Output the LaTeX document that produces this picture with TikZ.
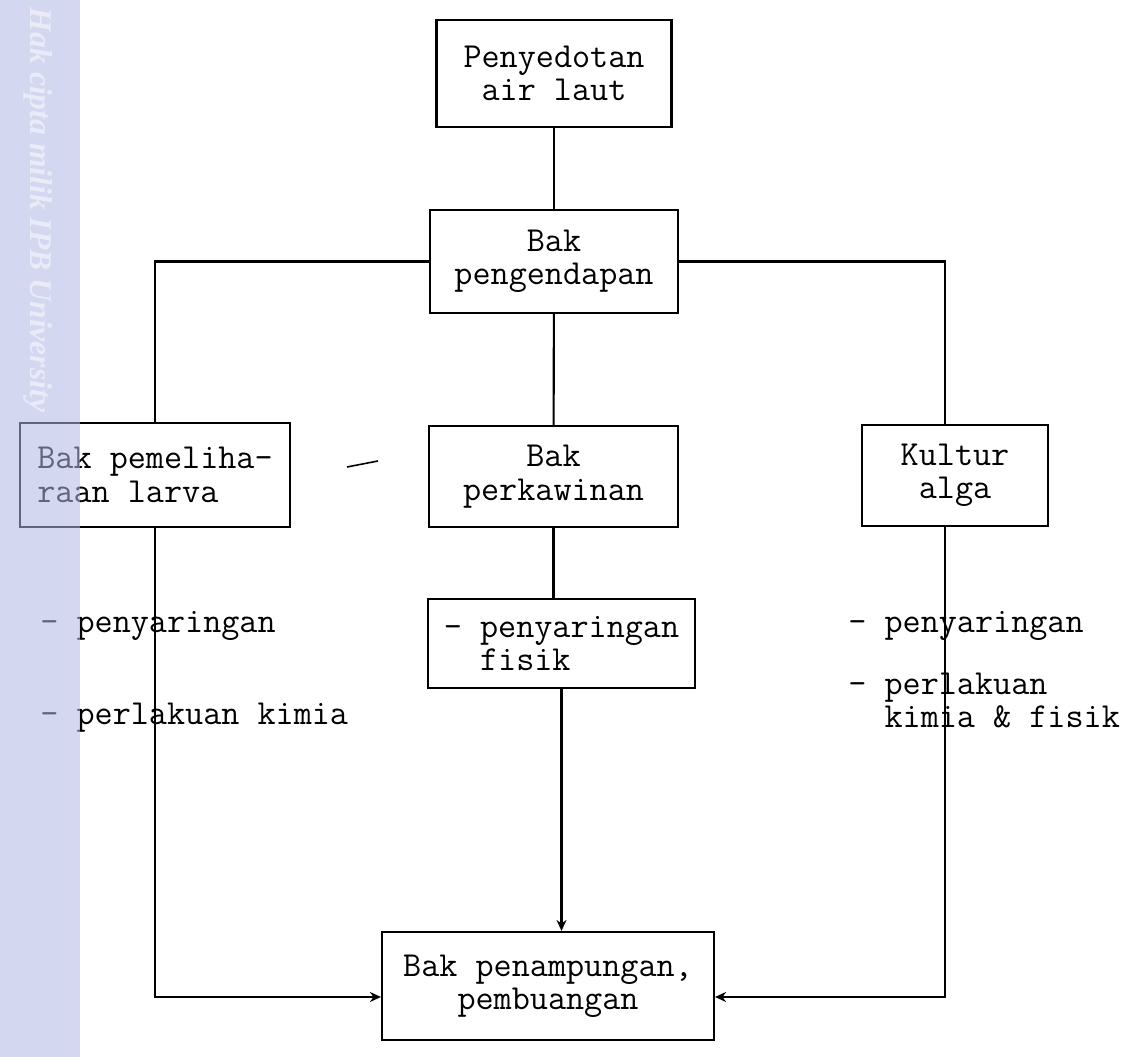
\documentclass[tikz,border=0pt]{standalone}
\usepackage{xcolor}
\usepackage{fontspec}
\newfontfamily\tandaair{Liberation Serif}
\usepackage{tikz}
\usetikzlibrary{shapes,arrows,arrows.meta,positioning,fit,backgrounds,calc}
\definecolor{pitaungu}{RGB}{175,183,229}

\begin{document}
\begin{tikzpicture}[
    bak/.style={rectangle, draw, line width=1.2pt, minimum width=4.96cm, minimum height=2.06cm,
                align=center, inner sep=2pt, font=\ttfamily\fontsize{20}{19}\selectfont},
    ket/.style={anchor=base west, align=left, inner sep=0pt, font=\ttfamily\fontsize{20}{19}\selectfont},
    garis/.style={line width=1.2pt},
    panah/.style={-{Stealth[length=2.2mm,width=2mm]}, line width=1.2pt}
]
    \fill[white] (0,0) rectangle (22.88,-21.14);
    \useasboundingbox (0,0) rectangle (22.88,-21.14);

    % Top - intake and settling
    \node[bak, minimum width=4.7cm, minimum height=2.14cm] (sedot) at (11.08,-1.47) {Penyedotan\\air laut};
    \node[bak] (endap) at (11.08,-5.23) {Bak\\pengendapan};

    % Row 2 (three tanks)
    \node[bak, minimum width=5.4cm, minimum height=2.08cm, align=left] (larva) at (3.1,-9.5) {Bak pemeliha-\\raan larva};
    \node[bak, minimum width=4.98cm, minimum height=2.02cm] (kawin) at (11.07,-9.53) {Bak\\perkawinan};
    \node[bak, minimum width=3.72cm, minimum height=2.02cm] (alga) at (19.1,-9.51) {Kultur\\alga};

    % Treatment
    \node[bak, minimum width=5.34cm, minimum height=1.78cm, align=left] (fisik) at (11.23,-12.87) {- penyaringan\\\phantom{-}\ fisik};
    \node[ket] (kiri1) at (0.8,-12.66) {- penyaringan};
    \node[ket] (kiri2) at (0.8,-14.5) {- perlakuan kimia};
    \node[ket] (kanan1) at (16.96,-12.66) {- penyaringan};
    \node[ket] (kanan2) at (16.96,-14.55) {- perlakuan\\\phantom{-}\ kimia \& fisik};

    % Bottom
    \node[bak, minimum width=6.64cm, minimum height=2.16cm] (tampung) at (10.96,-19.72) {Bak penampungan,\\pembuangan};

    % Connections
    \draw[garis] (sedot) -- (endap);
    \draw[garis] (endap.west) -| (larva.north);
    \draw[garis] (endap.east) -| ([xshift=-0.2cm]alga.north);
    \draw[garis] (endap) -- (kawin);
    \draw[garis] (kawin) -- (kawin |- fisik.north);
    \draw[panah] (fisik.south) -- (fisik.south |- tampung.north);
    \draw[panah] (larva.south) |- ([yshift=-0.22cm]tampung.west);
    \draw[panah] ([xshift=-0.2cm]alga.south) |- ([yshift=-0.22cm]tampung.east);

    % stray pen mark
    \draw[line width=0.9pt] (6.94,-9.34) -- (7.56,-9.22);

    % side strip
    \fill[pitaungu, opacity=0.55] (0,0) rectangle (1.6,-21.14);
    \node[rotate=-90, text=white, opacity=0.5, inner sep=0pt,
          font=\tandaair\bfseries\itshape\fontsize{18}{18}\selectfont] (tanda) at (0.76,-4.2) {Hak cipta milik IPB University};
\end{tikzpicture}
\end{document}
